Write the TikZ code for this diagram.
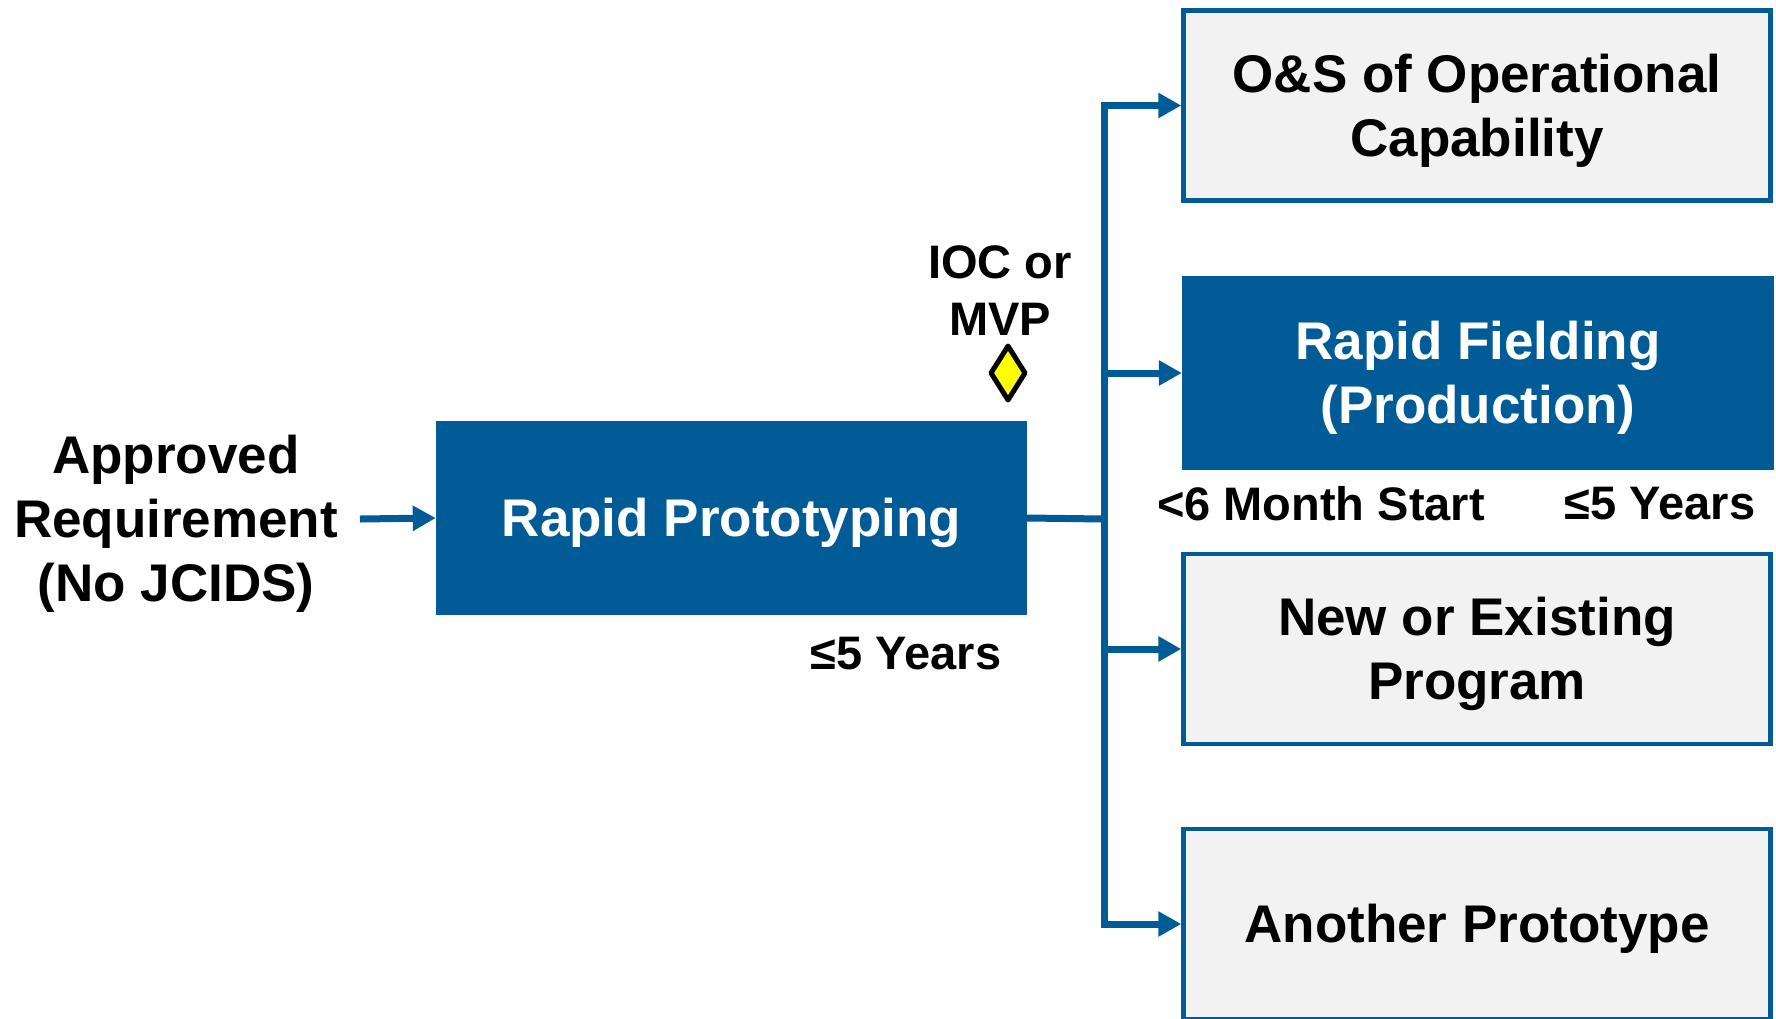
\documentclass[tikz,border=0pt]{standalone}
\usepackage{fontspec}
\setmainfont{Liberation Sans}
\usepackage{xcolor}
\usetikzlibrary{positioning,shapes.geometric,arrows.meta}

\definecolor{darkblue}{RGB}{0,91,150}
\definecolor{lightgray}{RGB}{242,242,242}
\definecolor{milestone}{RGB}{255,255,0}

\tikzset{
  bigtext/.style={font=\bfseries\fontsize{53}{64}\selectfont, align=center},
  oneline/.style={text height=48pt},
  twoline/.style={text height=112pt},
  threeline/.style={text height=176pt},
  smalltext/.style={font=\bfseries\fontsize{47}{57}\selectfont, align=center},
  phasebox/.style={bigtext, shape=rectangle, fill=darkblue, text=white, inner sep=0pt,
                   minimum width=591pt, minimum height=194pt},
  outcomebox/.style={bigtext, shape=rectangle, draw=darkblue, line width=4.5pt, fill=lightgray,
                     inner sep=0pt, minimum width=587pt, minimum height=190pt},
  flow/.style={draw=darkblue, line width=7pt, -{Triangle[length=23pt,width=24pt]}},
  link/.style={draw=darkblue, line width=7pt, line cap=rect}
}

\begin{document}
\begin{tikzpicture}[x=1pt,y=-1pt]
  \clip (0,0) rectangle (1776,1018);

  \node[bigtext, threeline] (req) at (176,519) {Approved\\Requirement\\(No JCIDS)};
  \node[phasebox, oneline] (proto) at (731.5,518) {Rapid Prototyping};
  \node[smalltext] (protoyrs) at (906,654) {≤5 Years};

  \node[smalltext] (ioc) at (1000,291) {IOC or\\MVP};
  \node[shape=diamond, draw=black, fill=milestone, line width=5pt, line join=round,
        inner sep=0pt, minimum width=36pt, minimum height=56pt] (mvp) at (1008,373) {};

  \node[outcomebox, twoline] (ops) at (1477,105.5) {O\&S of Operational\\Capability};
  \node[phasebox, twoline, minimum width=592pt] (field) at (1478,373) {Rapid Fielding\\(Production)};
  \node[outcomebox, twoline] (prog) at (1477,649) {New or Existing\\Program};
  \node[outcomebox, oneline] (alt) at (1477,924) {Another Prototype};

  \node[smalltext] (start) at (1321,504) {<6 Month Start};
  \node[smalltext] (fieldyrs) at (1660,504) {≤5 Years};

  \coordinate (hub) at (1104,519);
  \coordinate (feed) at (360,519);

  \draw[flow] (feed) -- (proto.west);
  \draw[link] (proto.east) -- (hub);
  \draw[flow] (hub) |- (ops.west);
  \draw[flow] (hub) |- (field.west);
  \draw[flow] (hub) |- (prog.west);
  \draw[flow] (hub) |- (alt.west);
\end{tikzpicture}
\end{document}
